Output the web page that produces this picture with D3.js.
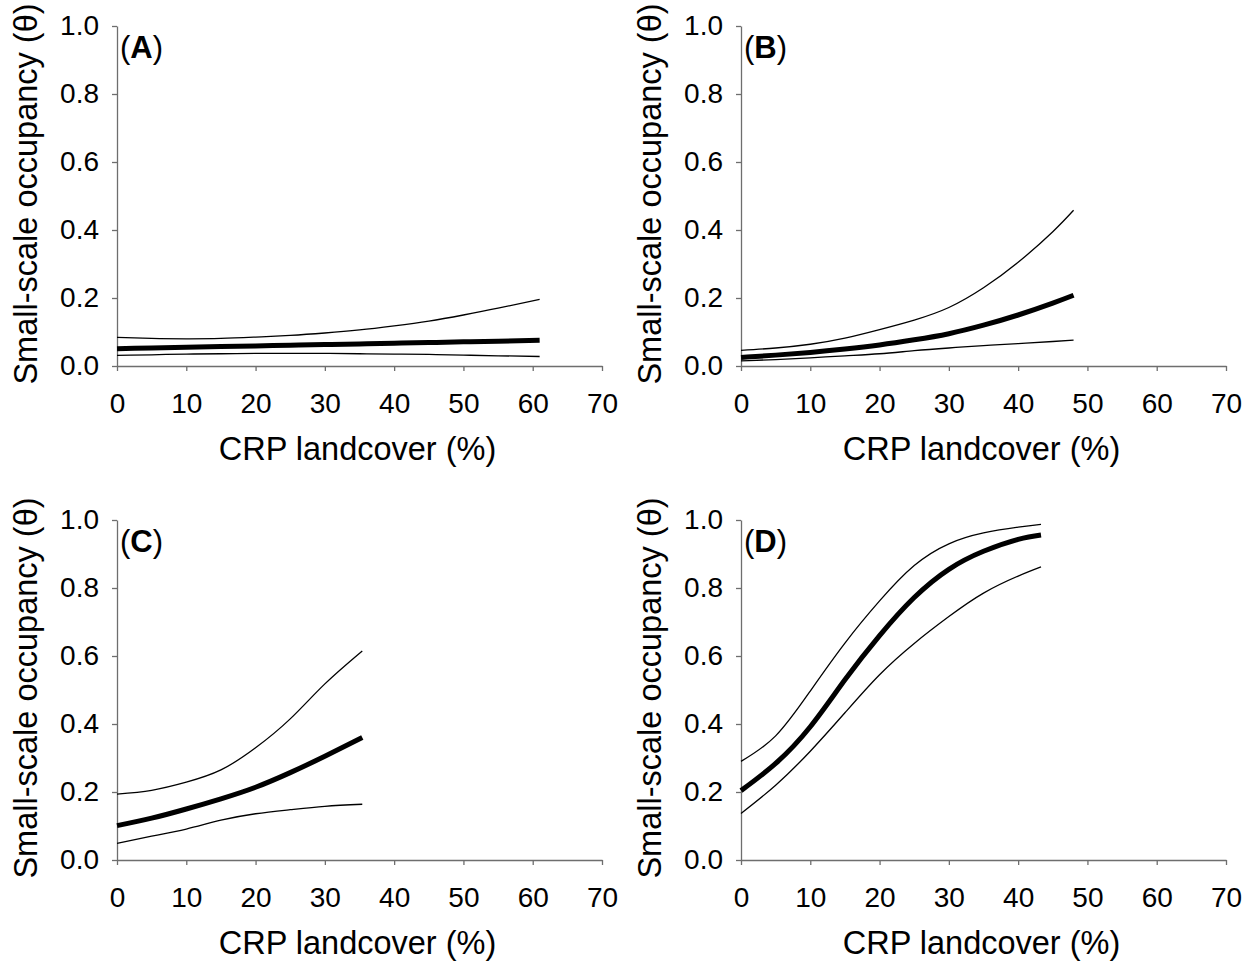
<!DOCTYPE html>
<html>
<head>
<meta charset="utf-8">
<script src="https://cdn.jsdelivr.net/npm/d3@7"></script>
<style>
  html, body { margin: 0; padding: 0; background: #fff; }
  svg { display: block; }
  text { font-family: Arial, "Liberation Sans", sans-serif; fill: #000; }
</style>
</head>
<body>
<svg id="chart" width="1254" height="961"></svg>
<script>
// Predicted small-scale occupancy vs. CRP landcover: estimate with 95% bounds
const panelLabels = ["A", "B", "C", "D"];
const xTicks = [0, 10, 20, 30, 40, 50, 60, 70];
const yTicks = [0.0, 0.2, 0.4, 0.6, 0.8, 1.0];
const xTitle = "CRP landcover (%)";
const yTitle = "Small-scale occupancy (\u03B8)";

// Panel A
const crpA   = [0, 5, 10, 15, 20, 25, 30, 35, 40, 45, 50, 55, 61];
const meanA  = [0.051, 0.053, 0.055, 0.057, 0.059, 0.061, 0.063, 0.065, 0.067, 0.069, 0.071, 0.073, 0.076];
const upperA = [0.084, 0.081, 0.080, 0.081, 0.085, 0.090, 0.097, 0.106, 0.118, 0.132, 0.150, 0.170, 0.196];
const lowerA = [0.031, 0.033, 0.035, 0.036, 0.037, 0.037, 0.037, 0.036, 0.035, 0.034, 0.032, 0.030, 0.028];

// Panel B
const crpB   = [0, 5, 10, 15, 20, 25, 30, 35, 40, 45, 48];
const meanB  = [0.025, 0.032, 0.040, 0.050, 0.062, 0.077, 0.095, 0.120, 0.150, 0.185, 0.208];
const upperB = [0.046, 0.053, 0.064, 0.082, 0.107, 0.135, 0.172, 0.230, 0.305, 0.395, 0.458];
const lowerB = [0.015, 0.019, 0.024, 0.030, 0.036, 0.045, 0.053, 0.060, 0.066, 0.072, 0.076];

// Panel C
const crpC   = [0, 5, 10, 15, 20, 25, 30, 35.4];
const meanC  = [0.101, 0.123, 0.150, 0.180, 0.214, 0.257, 0.305, 0.360];
const upperC = [0.194, 0.205, 0.229, 0.265, 0.330, 0.415, 0.518, 0.615];
const lowerC = [0.049, 0.070, 0.091, 0.117, 0.136, 0.148, 0.158, 0.164];

// Panel D
const crpD   = [0, 5, 10, 15, 20, 25, 30, 35, 40, 43.3];
const meanD  = [0.204, 0.284, 0.392, 0.530, 0.660, 0.772, 0.855, 0.908, 0.943, 0.956];
const upperD = [0.290, 0.365, 0.497, 0.638, 0.762, 0.866, 0.930, 0.962, 0.979, 0.987];
const lowerD = [0.137, 0.220, 0.320, 0.433, 0.545, 0.637, 0.716, 0.785, 0.835, 0.862];

const panels = [
  { label: panelLabels[0], x: crpA, mean: meanA, upper: upperA, lower: lowerA },
  { label: panelLabels[1], x: crpB, mean: meanB, upper: upperB, lower: lowerB },
  { label: panelLabels[2], x: crpC, mean: meanC, upper: upperC, lower: lowerC },
  { label: panelLabels[3], x: crpD, mean: meanD, upper: upperD, lower: lowerD }
];

const svg = d3.select("#chart");
const W = 485, H = 340;
const origins = [[117, 26], [741, 26], [117, 520], [741, 520]];

const x = d3.scaleLinear().domain([0, 70]).range([0, W]);
const y = d3.scaleLinear().domain([0, 1]).range([H, 0]);
const axisColor = "#6e6e6e";

panels.forEach((p, i) => {
  const [ox, oy] = origins[i];
  const g = svg.append("g").attr("transform", `translate(${ox},${oy})`);

  // y axis
  const ya = g.append("g")
    .call(d3.axisLeft(y).tickValues(yTicks).tickFormat(d3.format(".1f"))
      .tickSize(5).tickSizeOuter(0).tickPadding(13));
  // x axis
  const xa = g.append("g").attr("transform", `translate(0,${H})`)
    .call(d3.axisBottom(x).tickValues(xTicks).tickFormat(d3.format("d"))
      .tickSize(5).tickSizeOuter(0).tickPadding(22));
  [ya, xa].forEach(a => {
    a.select(".domain").attr("stroke", axisColor).attr("stroke-width", 1.3);
    a.selectAll(".tick line").attr("stroke", axisColor).attr("stroke-width", 1.3);
    a.selectAll(".tick text").attr("font-size", 28)
      .attr("font-family", "Arial, 'Liberation Sans', sans-serif").attr("fill", "#000");
  });

  // axis titles
  g.append("text")
    .attr("transform", `translate(${37 - ox + (i % 2 ? 624 : 0)},${H / 2 - 2}) rotate(-90)`)
    .attr("text-anchor", "middle")
    .attr("font-size", 32.5)
    .text(yTitle);
  g.append("text")
    .attr("x", W / 2 - 2)
    .attr("y", H + 94)
    .attr("text-anchor", "middle")
    .attr("font-size", 32.5)
    .text(xTitle);

  // panel label
  const lab = g.append("text").attr("x", 3).attr("y", 32).attr("font-size", 31);
  lab.append("tspan").text("(");
  lab.append("tspan").attr("font-weight", "bold").text(p.label);
  lab.append("tspan").text(")");

  // curves
  const line = d3.line()
    .x(d => x(d[0]))
    .y(d => y(d[1]))
    .curve(d3.curveNatural);
  const series = [
    { v: p.upper, w: 1.3 },
    { v: p.lower, w: 1.3 },
    { v: p.mean, w: 5 }
  ];
  series.forEach(s => {
    g.append("path")
      .datum(p.x.map((xv, j) => [xv, s.v[j]]))
      .attr("fill", "none")
      .attr("stroke", "#000")
      .attr("stroke-width", s.w)
      .attr("d", line);
  });
});
</script>
</body>
</html>
